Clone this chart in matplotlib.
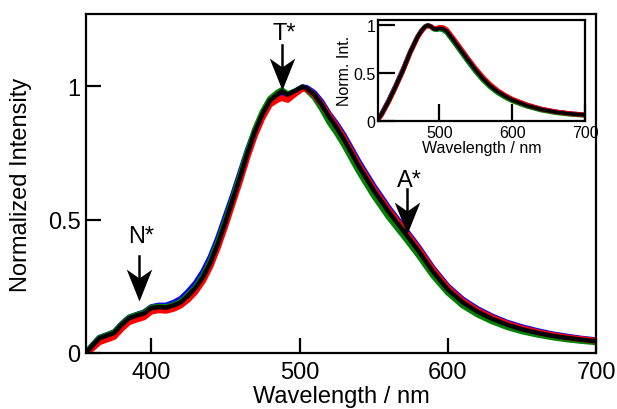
import matplotlib
matplotlib.use("Agg")
import matplotlib.pyplot as plt

plt.rcParams['font.family'] = ['Liberation Sans', 'DejaVu Sans']

# main spectra (normalized emission)
wl = [356, 360, 365, 370, 375, 380, 385, 390, 395, 400, 405, 410, 415, 420, 425,
      430, 435, 440, 445, 450, 455, 460, 465, 470, 475, 480, 485, 488, 492, 497,
      502, 505, 510, 515, 520, 525, 530, 540, 550, 560, 570, 580, 590, 600, 610,
      620, 630, 640, 650, 660, 670, 680, 690, 700]
black = [0.0, 0.025, 0.055, 0.065, 0.075, 0.105, 0.13, 0.14, 0.148, 0.168, 0.172,
         0.17, 0.178, 0.19, 0.215, 0.245, 0.285, 0.34, 0.41, 0.49, 0.575, 0.66,
         0.75, 0.83, 0.895, 0.945, 0.968, 0.98, 0.968, 0.982, 0.997, 0.99, 0.968,
         0.93, 0.885, 0.845, 0.80, 0.70, 0.61, 0.53, 0.458, 0.385, 0.305, 0.238,
         0.19, 0.155, 0.128, 0.106, 0.089, 0.076, 0.065, 0.057, 0.05, 0.044]
red = [0.0, 0.015, 0.04, 0.05, 0.06, 0.09, 0.115, 0.125, 0.133, 0.155, 0.16,
       0.158, 0.165, 0.178, 0.2, 0.23, 0.27, 0.325, 0.395, 0.475, 0.56, 0.645,
       0.735, 0.815, 0.88, 0.93, 0.948, 0.955, 0.948, 0.97, 0.99, 0.988, 0.967,
       0.932, 0.89, 0.85, 0.806, 0.706, 0.617, 0.537, 0.466, 0.393, 0.313, 0.245,
       0.196, 0.16, 0.133, 0.11, 0.093, 0.079, 0.068, 0.059, 0.052, 0.046]
blue = [0.0, 0.027, 0.057, 0.067, 0.078, 0.108, 0.133, 0.143, 0.152, 0.172, 0.178,
        0.178, 0.188, 0.203, 0.23, 0.262, 0.305, 0.36, 0.43, 0.51, 0.59, 0.675,
        0.76, 0.835, 0.895, 0.945, 0.963, 0.972, 0.966, 0.98, 0.996, 0.993, 0.974,
        0.94, 0.895, 0.858, 0.815, 0.716, 0.626, 0.545, 0.472, 0.399, 0.318, 0.25,
        0.201, 0.165, 0.137, 0.114, 0.097, 0.083, 0.071, 0.062, 0.054, 0.048]
green = [0.0, 0.026, 0.056, 0.067, 0.077, 0.107, 0.132, 0.142, 0.15, 0.17, 0.174,
         0.172, 0.18, 0.193, 0.218, 0.248, 0.29, 0.345, 0.415, 0.495, 0.578, 0.665,
         0.755, 0.838, 0.903, 0.952, 0.975, 0.985, 0.97, 0.98, 0.995, 0.985, 0.958,
         0.915, 0.865, 0.825, 0.78, 0.68, 0.59, 0.51, 0.44, 0.368, 0.29, 0.226,
         0.178, 0.144, 0.118, 0.097, 0.081, 0.069, 0.059, 0.051, 0.045, 0.04]

# inset spectra
wl_in = [416, 420, 430, 440, 450, 460, 470, 475, 480, 484, 488, 492, 496, 500, 505,
         510, 520, 530, 540, 550, 560, 570, 580, 590, 600, 620, 640, 660, 680, 700]
black_in = [0.02, 0.06, 0.2, 0.36, 0.53, 0.72, 0.88, 0.94, 0.985, 1.0, 0.99, 0.965,
            0.96, 0.97, 0.965, 0.94, 0.84, 0.735, 0.63, 0.53, 0.44, 0.365, 0.305,
            0.258, 0.218, 0.16, 0.118, 0.09, 0.072, 0.06]
red_in = [0.015, 0.055, 0.195, 0.355, 0.525, 0.715, 0.875, 0.935, 0.98, 0.995,
          0.99, 0.97, 0.968, 0.98, 0.978, 0.955, 0.855, 0.75, 0.645, 0.545, 0.455,
          0.378, 0.316, 0.267, 0.226, 0.166, 0.122, 0.093, 0.074, 0.061]
blue_in = [0.025, 0.065, 0.21, 0.37, 0.54, 0.725, 0.88, 0.94, 0.985, 1.0, 0.99,
           0.966, 0.962, 0.972, 0.968, 0.945, 0.847, 0.742, 0.637, 0.537, 0.447,
           0.372, 0.311, 0.263, 0.223, 0.164, 0.121, 0.092, 0.073, 0.061]
green_in = [0.02, 0.06, 0.2, 0.36, 0.53, 0.72, 0.88, 0.94, 0.985, 1.0, 0.988,
            0.962, 0.955, 0.962, 0.952, 0.925, 0.823, 0.718, 0.613, 0.513, 0.425,
            0.352, 0.293, 0.247, 0.208, 0.152, 0.111, 0.084, 0.067, 0.056]

# arrows: label, wavelength, shaft top, tip, text baseline
arrow_names = ["N*", "T*", "A*"]
arrow_x = [392, 488.5, 572.8]
arrow_tail = [0.365, 1.153, 0.615]
arrow_tip = [0.196, 0.985, 0.446]
arrow_text_y = [0.416, 1.175, 0.625]

colors = ["blue", "green", "red", "black"]

# notched arrow head, tip at the origin
HEAD = [(0, 0), (-0.4, 1.0), (0, 0.72), (0.4, 1.0), (0, 0)]


def style_axes(ax, fsize, tlen):
    for s in ax.spines.values():
        s.set_linewidth(1.6)
    ax.tick_params(direction="in", length=tlen, width=1.6, labelsize=fsize,
                   top=False, right=False)


fig = plt.figure(figsize=(6.17, 4.10), dpi=100)
ax = fig.add_axes([0.1394, 0.1366, 0.8266, 0.8268])

for ys, c in zip([blue, green, red, black], colors):
    lw = 3.2 if c == "black" else 4.2
    ax.plot(wl, ys, color=c, lw=lw, solid_capstyle="butt")

ax.set_xlim(356, 700)
ax.set_ylim(0, 1.27)
ax.set_xticks([400, 500, 600, 700])
ax.set_yticks([0, 0.5, 1])
ax.set_yticklabels(["0", "0.5", "1"])
style_axes(ax, 17, 11)
ax.tick_params(axis="x", pad=6)
ax.tick_params(axis="y", pad=4)
ax.set_xlabel("Wavelength / nm", fontsize=17, labelpad=1)
ax.set_ylabel("Normalized Intensity", fontsize=17, labelpad=11)

for name, x, y0, y1, ty in zip(arrow_names, arrow_x, arrow_tail, arrow_tip, arrow_text_y):
    ax.plot([x, x], [y0, y1 + 0.06], color="black", lw=1.8)
    ax.plot([x], [y1], marker=HEAD, ms=46, color="black", mew=0)
    ax.text(x + 1.5, ty, name, fontsize=17, ha="center", va="baseline")

# inset
axin = fig.add_axes([0.6131, 0.7032, 0.335, 0.2463])
for ys, c in zip([blue_in, green_in, red_in, black_in], colors):
    lw = 2.6 if c == "black" else 3.4
    axin.plot(wl_in, ys, color=c, lw=lw)
axin.set_xlim(416, 700)
axin.set_ylim(0, 1.06)
axin.set_xticks([500, 600, 700])
axin.set_yticks([0, 0.5, 1])
axin.set_yticklabels(["0", "0.5", "1"])
style_axes(axin, 11.5, 12)
axin.tick_params(axis="x", pad=3)
axin.tick_params(axis="y", pad=2)
axin.set_xlabel("Wavelength / nm", fontsize=11.5, labelpad=0)
axin.set_ylabel("Norm. Int.", fontsize=11.5, labelpad=1)

fig.savefig("out.png", dpi=100)
